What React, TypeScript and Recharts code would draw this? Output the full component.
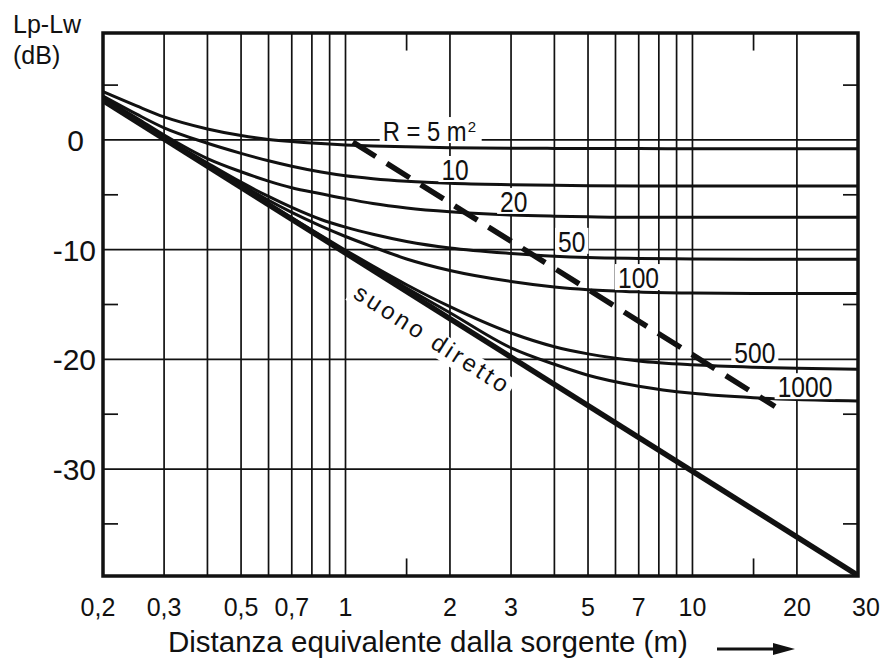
import React from 'react';
import {
  LineChart,
  Line,
  XAxis,
  YAxis,
  CartesianGrid,
  ReferenceLine,
  ReferenceDot,
  ReferenceArea,
} from 'recharts';

const distances = [0.2, 0.25, 0.3, 0.4, 0.5, 0.6, 0.7, 0.85, 1, 1.2, 1.5, 2, 3, 4, 5, 7, 10, 15, 20, 30];

// Lp-Lw (dB) for each room constant R (m2)
const r5 = [4.4, 3.1, 2.1, 1.0, 0.4, 0.05, -0.15, -0.33, -0.45, -0.55, -0.63, -0.7, -0.75, -0.77, -0.78, -0.79, -0.8, -0.8, -0.8, -0.8];
const r10 = [4.0, 2.35, 1.1, -0.3, -1.22, -1.9, -2.4, -2.93, -3.27, -3.53, -3.76, -3.95, -4.08, -4.14, -4.17, -4.19, -4.2, -4.2, -4.2, -4.2];
const r20 = [3.85, 2.0, 0.45, -1.7, -2.9, -3.75, -4.35, -4.9, -5.35, -5.8, -6.2, -6.55, -6.85, -6.95, -7.0, -7.05, -7.05, -7.05, -7.05, -7.05];
const r50 = [3.7, 1.85, 0.25, -2.1, -3.85, -5.15, -6.15, -7.25, -7.95, -8.6, -9.25, -9.85, -10.35, -10.6, -10.72, -10.8, -10.85, -10.88, -10.88, -10.88];
const r100 = [3.65, 1.78, 0.2, -2.25, -4.05, -5.5, -6.6, -7.85, -8.8, -9.75, -10.85, -11.9, -12.9, -13.4, -13.65, -13.85, -13.95, -14.0, -14.0, -14.0];
const r500 = [3.6, 1.69, 0.12, -2.35, -4.26, -5.82, -7.1, -8.72, -10.05, -11.5, -13.2, -15.2, -17.6, -18.85, -19.5, -20.15, -20.5, -20.72, -20.82, -20.9];
const r1000 = [3.6, 1.68, 0.11, -2.37, -4.28, -5.86, -7.17, -8.85, -10.15, -11.65, -13.5, -15.75, -18.95, -20.45, -21.45, -22.45, -23.1, -23.5, -23.67, -23.8];

// direct sound (straight on the log axis) and the dashed critical-distance line
const directDistances = [0.2, 30];
const directLevels = [3.6, -39.7];
const criticalDistances = [1.05, 17.3];
const criticalLevels = [-0.2, -24.3];

// axes
const xGridTicks = [0.2, 0.3, 0.4, 0.5, 0.6, 0.7, 0.8, 0.9, 1, 2, 3, 4, 5, 6, 7, 8, 9, 10, 20, 30];
const xLabeledTicks = [0.2, 0.3, 0.5, 0.7, 1, 2, 3, 5, 7, 10, 20, 30];
const xMinorTicks = [1.5, 15];
const yTicks = [-30, -20, -10, 0];
const yMinorTicks = [-35, -25, -15, -5, 5];
const X_DOMAIN: [number, number] = [0.2, 30];
const Y_DOMAIN: [number, number] = [-39.75, 9.75];

// curve tags: text, anchor distance, anchor level (baseline-left of the text)
const tagTexts = ['R = 5 m', '10', '20', '50', '100', '500', '1000'];
const tagDistances = [1.28, 1.89, 2.79, 4.1, 6.1, 13.2, 17.6];
const tagLevels = [-0.1, -3.65, -6.56, -10.2, -13.5, -20.3, -23.45];

const series = [
  { key: 'r5', values: r5 },
  { key: 'r10', values: r10 },
  { key: 'r20', values: r20 },
  { key: 'r50', values: r50 },
  { key: 'r100', values: r100 },
  { key: 'r500', values: r500 },
  { key: 'r1000', values: r1000 },
];

const rows = distances.map((r, i) => {
  const row: Record<string, number> = { r };
  series.forEach(s => {
    row[s.key] = s.values[i];
  });
  return row;
});
const directData = directDistances.map((r, i) => ({ r, level: directLevels[i] }));
const criticalData = criticalDistances.map((r, i) => ({ r, level: criticalLevels[i] }));

const INK = '#111';
const FONT = "'Liberation Sans', Arial, Helvetica, sans-serif";
// tick length in axis units (15px on a ~347px/decade log axis, 1.6 dB vertically)
const X_TICK_FACTOR = Math.pow(10, 15 / 347);
const Y_TICK_LEN = 1.6;

const charWidth = (c: string) => {
  if (c === 'R') return 0.722;
  if (c === '=') return 0.584;
  if (c === ' ') return 0.278;
  if (c === 'm') return 0.833;
  return 0.556;
};

const CurveTag = (props: any) => {
  const vb = props.viewBox || {};
  const x = vb.x ?? 0;
  const y = vb.y ?? 0;
  const text: string = props.text;
  const sup = text.startsWith('R');
  const fs = sup ? 28 : 30;
  const sx = sup ? 0.85 : 0.82;
  const w = text.split('').reduce((a, c) => a + charWidth(c), 0) * fs * sx;
  return (
    <g>
      <rect x={x - 3} y={y - 24} width={w + 6 + (sup ? 12 : 0)} height={26} fill="#fff" />
      <text
        transform={`translate(${x},${y}) scale(${sx},1)`}
        fontSize={fs}
        fontFamily={FONT}
        fill={INK}
      >
        {text}
      </text>
      {sup && (
        <text x={x + w + 1} y={y - 9} fontSize={15} fontFamily={FONT} fill={INK}>
          2
        </text>
      )}
    </g>
  );
};

const DirectTag = (props: any) => {
  const vb = props.viewBox || {};
  const x = vb.x ?? 0;
  const y = vb.y ?? 0;
  return (
    <g transform={`rotate(32.8 ${x} ${y})`}>
      <rect x={x - 4} y={y - 19} width={188} height={25} fill="#fff" />
      <text x={x} y={y} fontSize={24} letterSpacing={3.3} fontFamily={FONT} fill={INK}>
        suono diretto
      </text>
    </g>
  );
};

const XTick = (props: any) => {
  const { x, y, payload } = props;
  const v = payload.value;
  if (!xLabeledTicks.includes(v)) return null;
  let dx = 0;
  if (v === X_DOMAIN[0]) dx = -5;
  if (v === X_DOMAIN[1]) dx = 8;
  return (
    <text x={x + dx} y={y + 32} textAnchor="middle" fontSize={25} fontFamily={FONT} fill={INK}>
      {String(v).replace('.', ',')}
    </text>
  );
};

const YTick = (props: any) => {
  const { y, payload } = props;
  const v = payload.value;
  const right = v === 0 ? 84 : 96;
  return (
    <text x={right} y={y + 11} textAnchor="end" fontSize={30} fontFamily={FONT} fill={INK}>
      {v}
    </text>
  );
};

const XTitle = (props: any) => {
  const vb = props.viewBox || {};
  const x = vb.x ?? 103;
  const y = vb.y ?? 576;
  const ay = y + 73;
  return (
    <g>
      <text x={x + 65} y={y + 76} fontSize={29.5} fontFamily={FONT} fill={INK}>
        Distanza equivalente dalla sorgente (m)
      </text>
      <line x1={x + 614} y1={ay} x2={x + 676} y2={ay} stroke={INK} strokeWidth={3} />
      <polygon points={`${x + 670},${ay - 6} ${x + 692},${ay} ${x + 670},${ay + 6}`} fill={INK} />
    </g>
  );
};

const YTitle = (props: any) => {
  const vb = props.viewBox || {};
  const y = vb.y ?? 33;
  return (
    <g>
      <text x={13} y={y} fontSize={25} fontFamily={FONT} fill={INK}>
        Lp-Lw
      </text>
      <text x={13} y={y + 31} fontSize={25} fontFamily={FONT} fill={INK}>
        (dB)
      </text>
    </g>
  );
};

const App = () => {
  return (
    <div style={{ position: 'absolute', left: 0, top: 0, width: 880, height: 659, background: '#fff' }}>
      <LineChart
        width={880}
        height={659}
        data={rows}
        margin={{ top: 33, right: 22, bottom: 0, left: 0 }}
      >
        <CartesianGrid stroke={INK} strokeWidth={1.7} />
        <XAxis
          dataKey="r"
          type="number"
          scale="log"
          domain={X_DOMAIN}
          ticks={xGridTicks}
          interval={0}
          allowDataOverflow
          axisLine={false}
          tickLine={false}
          height={83}
          tick={<XTick />}
          label={{ content: <XTitle /> }}
        />
        <YAxis
          type="number"
          domain={Y_DOMAIN}
          ticks={yTicks}
          interval={0}
          allowDataOverflow
          axisLine={false}
          tickLine={false}
          width={103}
          tick={<YTick />}
          label={{ content: <YTitle /> }}
        />
        {yMinorTicks.map(v => (
          <ReferenceLine
            key={`yl-${v}`}
            segment={[{ x: X_DOMAIN[0], y: v }, { x: X_DOMAIN[0] * X_TICK_FACTOR, y: v }]}
            stroke={INK}
            strokeWidth={1.7}
          />
        ))}
        {yMinorTicks.map(v => (
          <ReferenceLine
            key={`yr-${v}`}
            segment={[{ x: X_DOMAIN[1] / X_TICK_FACTOR, y: v }, { x: X_DOMAIN[1], y: v }]}
            stroke={INK}
            strokeWidth={1.7}
          />
        ))}
        {xMinorTicks.map(v => (
          <ReferenceLine
            key={`xt-${v}`}
            segment={[{ x: v, y: Y_DOMAIN[1] }, { x: v, y: Y_DOMAIN[1] - Y_TICK_LEN }]}
            stroke={INK}
            strokeWidth={1.7}
          />
        ))}
        {xMinorTicks.map(v => (
          <ReferenceLine
            key={`xb-${v}`}
            segment={[{ x: v, y: Y_DOMAIN[0] }, { x: v, y: Y_DOMAIN[0] + Y_TICK_LEN }]}
            stroke={INK}
            strokeWidth={1.7}
          />
        ))}
        {tagTexts.map((t, i) => (
          <ReferenceDot
            key={`tag-${t}`}
            x={tagDistances[i]}
            y={tagLevels[i]}
            r={0}
            fill="none"
            stroke="none"
            label={{ content: <CurveTag text={t} /> }}
          />
        ))}
        <ReferenceDot
          x={1.044}
          y={-14.31}
          r={0}
          fill="none"
          stroke="none"
          label={{ content: <DirectTag /> }}
        />
        {series.map(s => (
          <Line
            key={s.key}
            dataKey={s.key}
            type="monotone"
            stroke={INK}
            strokeWidth={3}
            dot={false}
            activeDot={false}
            isAnimationActive={false}
          />
        ))}
        <Line
          data={directData}
          dataKey="level"
          type="linear"
          stroke={INK}
          strokeWidth={5.5}
          dot={false}
          activeDot={false}
          isAnimationActive={false}
        />
        <Line
          data={criticalData}
          dataKey="level"
          type="linear"
          stroke={INK}
          strokeWidth={5.5}
          strokeDasharray="27 13"
          dot={false}
          activeDot={false}
          isAnimationActive={false}
        />
        <ReferenceArea
          x1={X_DOMAIN[0]}
          x2={X_DOMAIN[1]}
          y1={Y_DOMAIN[0]}
          y2={Y_DOMAIN[1]}
          fill="none"
          fillOpacity={0}
          stroke={INK}
          strokeWidth={3.5}
        />
      </LineChart>
    </div>
  );
};

export default App;
